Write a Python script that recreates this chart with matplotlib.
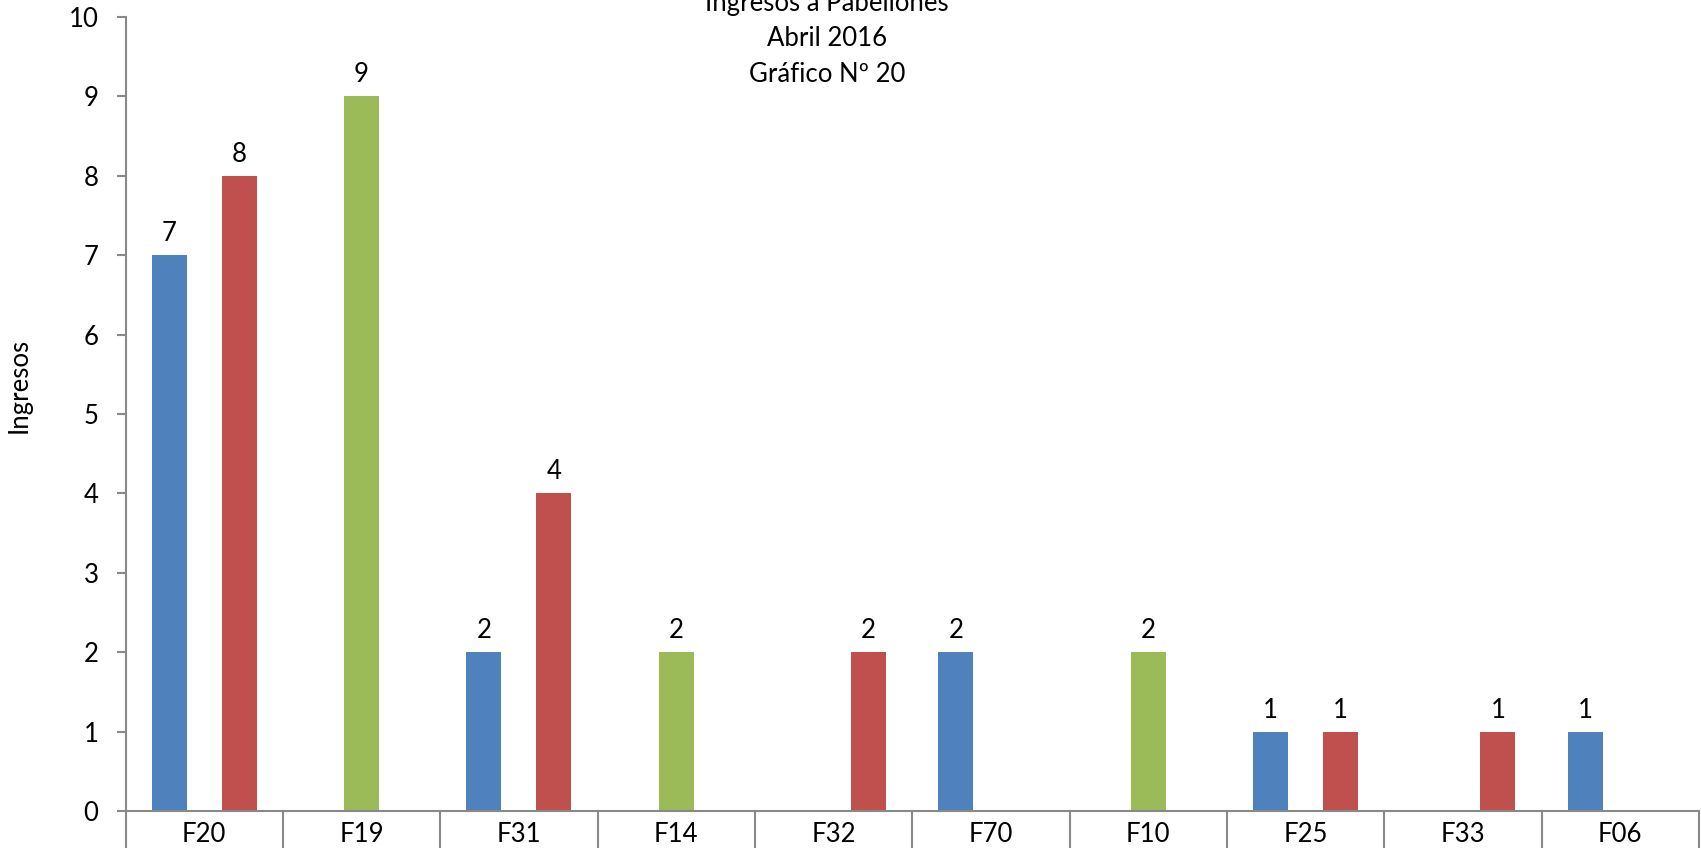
import matplotlib
matplotlib.use("Agg")
import matplotlib.pyplot as plt
import numpy as np
from matplotlib.transforms import blended_transform_factory

plt.rcParams['font.family'] = ['Lato', 'DejaVu Sans']

categories = ["F20", "F19", "F31", "F14", "F32", "F70", "F10", "F25", "F33", "F06"]
serie_azul = [7, 0, 2, 0, 0, 2, 0, 1, 0, 1]
serie_verde = [0, 9, 0, 2, 0, 0, 2, 0, 0, 0]
serie_roja = [8, 0, 4, 0, 2, 0, 0, 1, 1, 0]
y_ticks = [0, 1, 2, 3, 4, 5, 6, 7, 8, 9, 10]
title_lines = ["Ingresos a Pabellones", "Abril 2016", "Gráfico Nº 20"]
y_label = "Ingresos"

colors = ["#4F81BD", "#9BBB59", "#C0504D"]
series = [serie_azul, serie_verde, serie_roja]

W, H = 1701, 848
fig = plt.figure(figsize=(W / 100, H / 100), dpi=100)
left, right = 125.5 / W, 1699 / W
top_px, bot_px = 17, 811
ax = fig.add_axes([left, 1 - bot_px / H, right - left, (bot_px - top_px) / H])

x = np.arange(len(categories))
bw = 1 / 4.5
offsets = [-bw, 0, bw]
fs = 18.5
for vals, off, c in zip(series, offsets, colors):
    bars = ax.bar(x + off, vals, width=bw, color=c, zorder=2)
    for b, v in zip(bars, vals):
        if v > 0:
            ax.annotate(str(v), (b.get_x() + b.get_width() / 2, v),
                        xytext=(0, 9), textcoords='offset pixels',
                        ha='center', va='bottom', fontsize=fs, color='black')

ax.set_xlim(-0.5, len(categories) - 0.5)
ax.set_ylim(0, 10)
ax.set_yticks(y_ticks)
ax.set_yticklabels([str(t) for t in y_ticks], fontsize=fs)
ax.set_xticks(x)
ax.set_xticklabels(categories, fontsize=fs)

spine_c = "#898989"
for s in ['top', 'right']:
    ax.spines[s].set_visible(False)
for s in ['left', 'bottom']:
    ax.spines[s].set_color(spine_c)
    ax.spines[s].set_linewidth(1.5)
ax.tick_params(axis='y', length=6.5, width=1.5, color=spine_c, pad=13)
ax.tick_params(axis='x', length=0, pad=8)

tr = blended_transform_factory(ax.transData, ax.transAxes)
for bnd in np.arange(-0.5, len(categories), 1.0):
    ax.plot([bnd, bnd], [0, -0.1], transform=tr, color=spine_c, lw=1.5,
            clip_on=False, zorder=3)

fig.text(19.5 / W, 1 - 385 / H, y_label, rotation=90, ha='center', va='center', fontsize=fs)

tx = 827 / W
for i, line in enumerate(title_lines):
    fig.text(tx, 1 - (3 + 36 * i) / H, line, ha='center', va='center', fontsize=fs)

fig.savefig("out.png", dpi=100)
